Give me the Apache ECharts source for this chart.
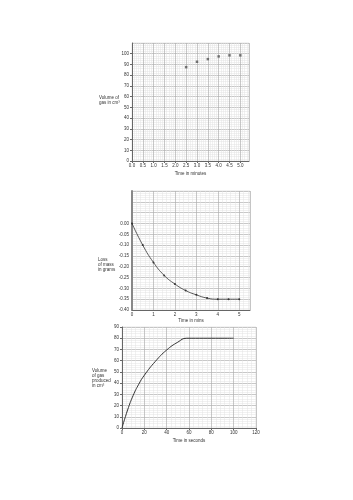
<!DOCTYPE html>
<html>
<head>
<meta charset="utf-8">
<script src="https://cdn.jsdelivr.net/npm/echarts@6/dist/echarts.min.js"></script>
<style>
  html, body { margin: 0; padding: 0; background: #fff; }
  #main { width: 353px; height: 500px; }
</style>
</head>
<body>
<div id="main"></div>
<script>
// 图1 气体体积 - 时间(分钟)
var volTime = [2.5, 3.0, 3.5, 4.0, 4.5, 5.0]
var volGas = [87.5, 92.5, 95, 97.5, 98.5, 98.5]

// 图2 质量损失 - 时间(分钟)
var massTime = [0, 0.5, 1, 1.5, 2, 2.5, 3, 3.5, 4, 4.5, 5]
var massLoss = [0, -0.10, -0.18, -0.24, -0.28, -0.31, -0.33, -0.345, -0.35, -0.35, -0.35]

// 图3 产生气体体积 - 时间(秒)
var gasTime = [0, 5, 10, 15, 20, 30, 40, 50, 58, 100]
var gasVol = [0, 16, 29, 39, 47, 59.5, 69.5, 76.5, 80, 80]

var myChart = echarts.init(document.getElementById('main'))
var option

var font = 'Liberation Sans'
var txt = '#333'

// 坐标纸样式
function paperAxis(ext) {
  var base = {
    axisLine: { show: true, onZero: false, lineStyle: { color: '#666', width: 1 } },
    axisTick: { show: true, length: 2, lineStyle: { color: '#666' } },
    axisLabel: { fontSize: 4.5, color: txt, fontFamily: font, margin: 2 },
    splitLine: { show: true, lineStyle: { color: '#b0b0b0', width: 0.7 } },
    minorTick: { show: false },
    minorSplitLine: { show: true, lineStyle: { color: '#e2e2e2', width: 0.5 } },
    nameTextStyle: { fontSize: 4.5, color: txt, fontFamily: font }
  }
  return Object.assign(base, ext)
}

option = {
  backgroundColor: '#fff',
  animation: false,
  textStyle: { fontFamily: font },
  grid: [
    { left: 132, top: 43, width: 117, height: 118, show: true, borderColor: '#ccc', borderWidth: 0.5 },
    { left: 132, top: 191, width: 118, height: 119, show: true, borderColor: '#ccc', borderWidth: 0.5 },
    { left: 122, top: 327, width: 134, height: 101, show: true, borderColor: '#ccc', borderWidth: 0.5 }
  ],
  xAxis: [
    paperAxis({
      gridIndex: 0, type: 'value', min: 0, max: 5.4, interval: 0.5,
      axisLabel: {
        fontSize: 4.5, color: txt, fontFamily: font, margin: 2, showMaxLabel: false,
        formatter: function(v) { return v.toFixed(1) }
      },
      name: 'Time in minutes', nameLocation: 'middle', nameGap: 10
    }),
    paperAxis({
      gridIndex: 1, type: 'value', min: 0, max: 5.5, interval: 1,
      axisTick: { show: false },
      axisLabel: { fontSize: 4.5, color: txt, fontFamily: font, margin: 2, showMaxLabel: false },
      name: 'Time in mins', nameLocation: 'middle', nameGap: 8
    }),
    paperAxis({
      gridIndex: 2, type: 'value', min: 0, max: 120, interval: 20,
      name: 'Time in seconds', nameLocation: 'middle', nameGap: 10
    })
  ],
  yAxis: [
    paperAxis({
      gridIndex: 0, type: 'value', min: 0, max: 110, interval: 10,
      axisLabel: { fontSize: 4.5, color: txt, fontFamily: font, margin: 3, showMaxLabel: false }
    }),
    paperAxis({
      gridIndex: 1, type: 'value', min: -0.4, max: 0.15, interval: 0.05,
      axisLine: { show: true, onZero: false, lineStyle: { color: '#888', width: 2 } },
      axisTick: { show: false },
      axisLabel: {
        fontSize: 4.5, color: txt, fontFamily: font, margin: 3,
        formatter: function(v) { return v > 0.001 ? '' : (Math.abs(v) < 0.001 ? '0.00' : v.toFixed(2)) }
      }
    }),
    paperAxis({
      gridIndex: 2, type: 'value', min: 0, max: 90, interval: 10,
      axisLabel: { fontSize: 4.5, color: txt, fontFamily: font, margin: 3 }
    })
  ],
  // y 轴名称 - 横排多行
  graphic: [
    {
      type: 'text', left: 99, top: 95,
      style: { text: 'Volume of\ngas in cm³', fontSize: 4.5, fill: txt, fontFamily: font, lineHeight: 5.5 }
    },
    {
      type: 'text', left: 98, top: 257,
      style: { text: 'Loss\nof mass\nin grams', fontSize: 4.5, fill: txt, fontFamily: font, lineHeight: 5 }
    },
    {
      type: 'text', left: 92, top: 368,
      style: { text: 'Volume\nof gas\nproduced\nin cm³', fontSize: 4.5, fill: txt, fontFamily: font, lineHeight: 5 }
    }
  ],
  series: [
    {
      type: 'scatter',
      xAxisIndex: 0, yAxisIndex: 0,
      symbol: 'rect', symbolSize: 2.5,
      itemStyle: { color: '#555' },
      data: volTime.map(function(t, i) { return [t, volGas[i]] })
    },
    {
      type: 'line',
      xAxisIndex: 1, yAxisIndex: 1,
      smooth: true,
      symbol: 'circle', symbolSize: 2,
      lineStyle: { color: '#333', width: 0.8 },
      itemStyle: { color: '#333' },
      data: massTime.map(function(t, i) { return [t, massLoss[i]] })
    },
    {
      type: 'line',
      xAxisIndex: 2, yAxisIndex: 2,
      smooth: true,
      showSymbol: false,
      lineStyle: { color: '#333', width: 1 },
      data: gasTime.map(function(t, i) { return [t, gasVol[i]] })
    }
  ]
}

option && myChart.setOption(option)
</script>
</body>
</html>
